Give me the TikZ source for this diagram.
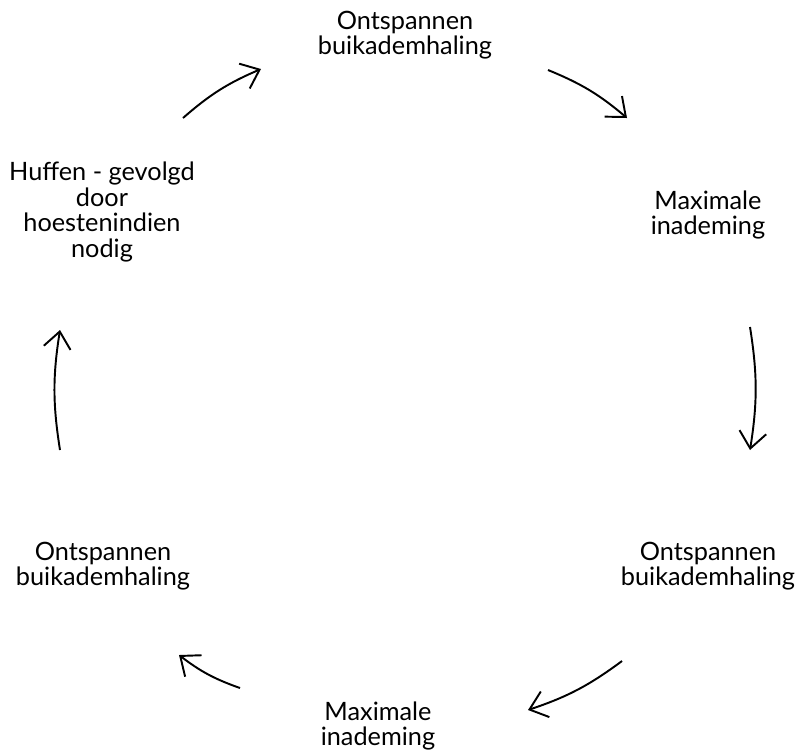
\documentclass[tikz,border=0pt]{standalone}
\usepackage{fontspec}
\setmainfont{Lato}
\usetikzlibrary{arrows.meta}
\definecolor{my_ink}{RGB}{0,0,0}
\tikzset{
  steplbl/.style = {align=center, font=\fontsize{14.4}{14.6}\selectfont, inner sep=0pt},
  cyc/.style     = {my_ink, line width=1.1pt, -{Straight Barb[length=3.3mm,width=5.4mm]}}
}

\begin{document}
\begin{tikzpicture}[x=0.02cm, y=-0.02cm]
    \useasboundingbox (0,0) rectangle (800,752);

    % ----- Steps of the cycle -----
    \node[steplbl] (S1) at (405,35)  {Ontspannen\\buikademhaling};
    \node[steplbl] (S2) at (708,215) {Maximale\\inademing};
    \node[steplbl] (S3) at (708,566) {Ontspannen\\buikademhaling};
    \node[steplbl] (S4) at (378,726) {Maximale\\inademing};
    \node[steplbl] (S5) at (103,566) {Ontspannen\\buikademhaling};
    \node[steplbl] (S6) at (102,212) {Huffen - gevolgd\\door\\hoestenindien\\nodig};

    % ----- Arrow end points -----
    \coordinate (A1s) at (183,118); \coordinate (A1e) at (261,69);
    \coordinate (A2s) at (548,70);  \coordinate (A2e) at (627,118);
    \coordinate (A3s) at (750,327); \coordinate (A3e) at (750,450);
    \coordinate (A4s) at (622,661); \coordinate (A4e) at (528,710);
    \coordinate (A5s) at (240,688); \coordinate (A5e) at (179,655);
    \coordinate (A6s) at (60,450);  \coordinate (A6e) at (60,330);

    % ----- Arrows (clockwise) -----
    \foreach \a in {1,...,6}{
      \draw[cyc] (A\a s) to[bend left=9] (A\a e);
    }
\end{tikzpicture}
\end{document}
